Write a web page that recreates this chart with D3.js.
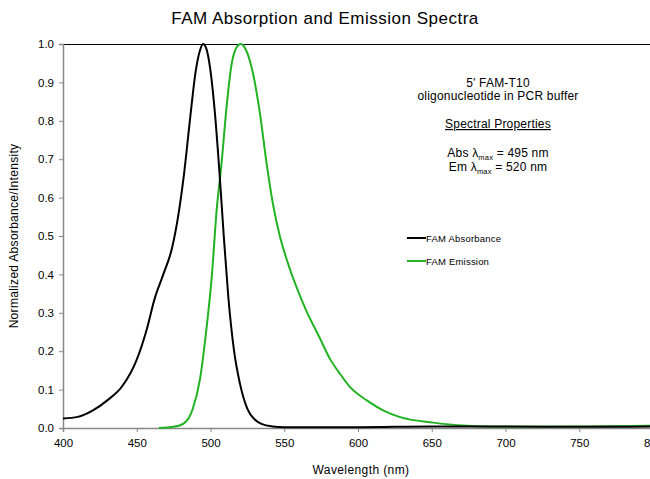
<!DOCTYPE html>
<html>
<head>
<meta charset="utf-8">
<script src="https://cdn.jsdelivr.net/npm/d3@7"></script>
<style>
  body { margin: 0; background: #fff; }
  text { font-family: "Liberation Sans", Arial, sans-serif; fill: #000; }
</style>
</head>
<body>
<div id="vis"></div>
<script>
// absorbance spectrum (wavelength nm, normalized value)
var absWl  = [400, 410, 420, 430, 440, 450, 457, 462, 468, 474, 478, 482, 486, 490, 493, 495, 497, 500, 503, 506, 509, 512, 516, 520, 525, 530, 535, 542, 550, 600, 650, 700, 750, 800];
var absVal = [0.025, 0.029, 0.045, 0.072, 0.108, 0.178, 0.26, 0.335, 0.40, 0.47, 0.55, 0.66, 0.80, 0.93, 0.985, 1.0, 0.99, 0.93, 0.82, 0.67, 0.50, 0.345, 0.20, 0.115, 0.05, 0.022, 0.01, 0.004, 0.002, 0.002, 0.004, 0.004, 0.003, 0.004];

// emission spectrum
var emWl  = [465, 475, 482, 488, 493, 497, 501, 504, 507.5, 511, 514, 517.5, 520.5, 524, 529, 533.5, 538, 542.5, 547, 552, 558, 565, 574, 581, 588, 595, 606, 617, 628, 651, 674, 696, 750, 800];
var emVal = [0, 0.003, 0.012, 0.05, 0.13, 0.25, 0.40, 0.56, 0.69, 0.84, 0.94, 0.99, 1.0, 0.985, 0.92, 0.82, 0.69, 0.58, 0.50, 0.435, 0.37, 0.305, 0.235, 0.18, 0.14, 0.105, 0.072, 0.046, 0.029, 0.014, 0.006, 0.003, 0.004, 0.006];

var xTicks = [400, 450, 500, 550, 600, 650, 700, 750, 800];
var yTicks = [0, 0.1, 0.2, 0.3, 0.4, 0.5, 0.6, 0.7, 0.8, 0.9, 1.0];

var width = 650, height = 479;
var plot = { left: 63, right: 653, top: 44, bottom: 428 };

var svg = d3.select("#vis").append("svg")
    .attr("width", width)
    .attr("height", height);

var x = d3.scaleLinear().domain([400, 800]).range([plot.left, plot.right]);
var y = d3.scaleLinear().domain([0, 1]).range([plot.bottom, plot.top]);

// title
svg.append("text")
    .attr("x", 325).attr("y", 24)
    .attr("text-anchor", "middle")
    .style("font-size", "17px")
    .style("letter-spacing", "0.5px")
    .text("FAM Absorption and Emission Spectra");

// top border of plot area
svg.append("line")
    .attr("x1", plot.left).attr("x2", plot.right)
    .attr("y1", plot.top + 0.5).attr("y2", plot.top + 0.5)
    .attr("stroke", "#000").attr("stroke-width", 1);

// axes
var xAxis = svg.append("g")
    .attr("transform", "translate(0," + plot.bottom + ")")
    .call(d3.axisBottom(x).tickValues(xTicks).tickSize(4).tickPadding(7).tickFormat(d3.format("d")));

var yAxis = svg.append("g")
    .attr("transform", "translate(" + plot.left + ",0)")
    .call(d3.axisLeft(y).tickValues(yTicks).tickSize(4).tickPadding(5).tickFormat(d3.format(".1f")));

[xAxis, yAxis].forEach(function (a) {
  a.select(".domain").attr("stroke", "#888").attr("stroke-width", 1.5);
  a.selectAll(".tick line").attr("stroke", "#888");
  a.selectAll("text").style("font-size", "11.5px").style("font-family", "Liberation Sans, Arial, sans-serif").attr("fill", "#000");
});

// axis titles
svg.append("text")
    .attr("x", 361).attr("y", 474)
    .attr("text-anchor", "middle")
    .style("font-size", "12px")
    .style("letter-spacing", "0.4px")
    .text("Wavelength (nm)");

svg.append("text")
    .attr("transform", "translate(18," + ((plot.top + plot.bottom) / 2) + ") rotate(-90)")
    .attr("text-anchor", "middle")
    .style("font-size", "12px")
    .style("letter-spacing", "0.3px")
    .text("Normalized Absorbance/Intensity");

// curves
var line = d3.line()
    .x(function (d) { return x(d[0]); })
    .y(function (d) { return y(d[1]); })
    .curve(d3.curveMonotoneX);

var series = [
  { name: "FAM Absorbance", color: "#000000", pts: d3.zip(absWl, absVal) },
  { name: "FAM Emission", color: "#22b322", pts: d3.zip(emWl, emVal) }
];

svg.selectAll(".spec")
    .data(series.slice().reverse())
    .enter().append("path")
    .attr("class", "spec")
    .attr("fill", "none")
    .attr("stroke", function (d) { return d.color; })
    .attr("stroke-width", 2)
    .attr("d", function (d) { return line(d.pts); });

// annotation
var note = svg.append("g").attr("text-anchor", "middle").style("font-size", "12px").style("letter-spacing", "0.2px");
note.append("text").attr("x", 498).attr("y", 87).text("5' FAM-T10");
note.append("text").attr("x", 498).attr("y", 100).text("oligonucleotide in PCR buffer");
note.append("text").attr("x", 498).attr("y", 128)
    .style("text-decoration", "underline")
    .text("Spectral Properties");

var abs = note.append("text").attr("x", 498).attr("y", 157);
abs.append("tspan").text("Abs λ");
abs.append("tspan").attr("dy", 3).style("font-size", "7.5px").text("max");
abs.append("tspan").attr("dy", -3).text(" =  495 nm");

var em = note.append("text").attr("x", 498).attr("y", 171);
em.append("tspan").text("Em λ");
em.append("tspan").attr("dy", 3).style("font-size", "7.5px").text("max");
em.append("tspan").attr("dy", -3).text(" = 520 nm");

// legend
var legend = svg.selectAll(".legend")
    .data(series)
    .enter().append("g")
    .attr("class", "legend")
    .attr("transform", function (d, i) { return "translate(407," + (238 + i * 23) + ")"; });

legend.append("line")
    .attr("x1", 0).attr("x2", 19)
    .attr("stroke", function (d) { return d.color; })
    .attr("stroke-width", 2);

legend.append("text")
    .attr("x", 19).attr("y", 3.5)
    .style("font-size", "9.5px")
    .style("letter-spacing", "0.2px")
    .text(function (d) { return d.name; });
</script>
</body>
</html>
